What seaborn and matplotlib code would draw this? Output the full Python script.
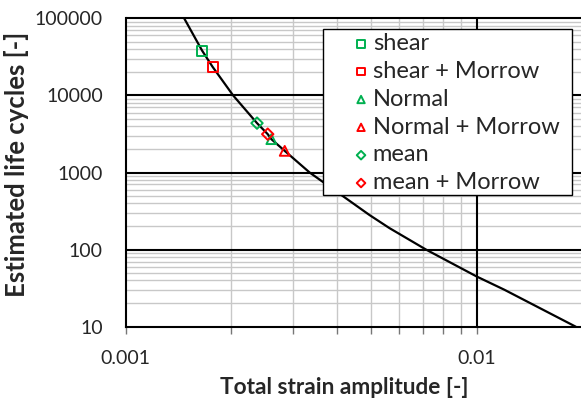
"""
Strain-life curve with estimated life cycles (seaborn)
"""
import numpy as np
import matplotlib
matplotlib.use('Agg')
import matplotlib.pyplot as plt
from matplotlib.patches import Rectangle
from matplotlib.ticker import FixedLocator, NullFormatter, FixedFormatter
import seaborn as sns

# --- data ---
curve_strain = [0.001467, 0.001651, 0.001767, 0.002022, 0.002365, 0.002537,
                0.002598, 0.002836, 0.003339, 0.004943, 0.005635, 0.007163,
                0.008619, 0.01, 0.01196, 0.01911]
curve_cycles = [100000, 37950, 23520, 10000, 4368, 3143,
                2707, 1908, 1000, 281, 190, 100,
                63.9, 44.6, 30.2, 10]

series_names = ['shear', 'shear + Morrow', 'Normal', 'Normal + Morrow',
                'mean', 'mean + Morrow']
series_strain = [0.001651, 0.001767, 0.002598, 0.002836, 0.002365, 0.002537]
series_cycles = [37950, 23520, 2707, 1908, 4368, 3143]

x_major = [0.001, 0.01]
x_major_labels = ['0.001', '0.01']
y_major = [10, 100, 1000, 10000, 100000]
y_major_labels = ['10', '100', '1000', '10000', '100000']

GREEN = '#00B050'
RED = '#FF0000'
series_colors = [GREEN, RED, GREEN, RED, GREEN, RED]
series_markers = ['s', 's', '^', '^', 'D', 'D']
series_sizes = [52, 52, 50, 50, 34, 34]

sns.set_style('white')
plt.rcParams['font.family'] = ['Lato', 'DejaVu Sans']

W, H = 581, 401
fig = plt.figure(figsize=(W / 100, H / 100), dpi=100)
ax = fig.add_axes([125.7 / W, (H - 326.7) / H, 457 / W, 308.4 / H])

ax.set_xscale('log')
ax.set_yscale('log')
ax.set_xlim(0.001, 0.02)
ax.set_ylim(10, 100000)

ax.xaxis.set_major_locator(FixedLocator(x_major))
ax.xaxis.set_major_formatter(FixedFormatter(x_major_labels))
ax.xaxis.set_minor_locator(FixedLocator([k * 0.001 for k in range(2, 10)]))
ax.xaxis.set_minor_formatter(NullFormatter())
ax.yaxis.set_major_locator(FixedLocator(y_major))
ax.yaxis.set_major_formatter(FixedFormatter(y_major_labels))
y_minor = [k * 10.0 ** e for e in range(1, 5) for k in range(2, 10)]
ax.yaxis.set_minor_locator(FixedLocator(y_minor))
ax.yaxis.set_minor_formatter(NullFormatter())

# minor grid grey, major lines black on top of it
ax.grid(which='minor', color='#C8C8C8', linewidth=1.0)
ax.grid(which='major', visible=False)
ax.set_axisbelow(True)
for v in y_major[1:]:
    ax.axhline(v, color='black', linewidth=1.5, zorder=1.5, clip_on=False)
ax.axvline(0.01, color='black', linewidth=1.5, zorder=1.5)

for side in ['top', 'right']:
    ax.spines[side].set_visible(False)
for side in ['left', 'bottom']:
    ax.spines[side].set_color('black')
    ax.spines[side].set_linewidth(1.5)

ax.tick_params(axis='x', which='both', direction='out', length=5, width=1,
               color='#777777', bottom=True, labelsize=14, pad=12)
ax.tick_params(axis='y', which='both', length=0, labelsize=14, pad=16.5)

# curve
sns.lineplot(x=curve_strain, y=curve_cycles, ax=ax, color='black',
             linewidth=1.6, sort=False, estimator=None, zorder=3)

# markers
for name, xs, ys, c, m, s in zip(series_names, series_strain, series_cycles,
                                  series_colors, series_markers, series_sizes):
    sns.scatterplot(x=[xs], y=[ys], ax=ax, marker=m, s=s, color='none',
                    edgecolor=c, linewidth=1.4, label=name, zorder=4)

# legend box drawn by hand so the padding matches
box = Rectangle((323.3 / W, 1 - 195 / H), (571.7 - 323.3) / W, (195 - 29.3) / H,
                transform=fig.transFigure, facecolor='white', edgecolor='black',
                linewidth=1.0, zorder=4.5, clip_on=False)
ax.add_patch(box)
leg = ax.legend(loc='upper left', bbox_to_anchor=(351.6 / W, 1 - 33 / H),
                bbox_transform=fig.transFigure, frameon=False,
                fontsize=17, markerscale=0.75,
                handlelength=0.8, handletextpad=0.1, labelspacing=0.29,
                borderpad=0, borderaxespad=0)
leg.set_zorder(6)

ax.set_xlabel('Total strain amplitude [-]', fontsize=16.3, fontweight='bold', va='center')
ax.set_ylabel('Estimated life cycles [-]', fontsize=18.5, fontweight='bold', va='center')
ax.xaxis.set_label_coords((344 - 125.7) / 457, (326.7 - 387) / 308.4)
ax.yaxis.set_label_coords((16.5 - 125.7) / 457, (326.7 - 164) / 308.4)

fig.savefig('out.png', dpi=100)
